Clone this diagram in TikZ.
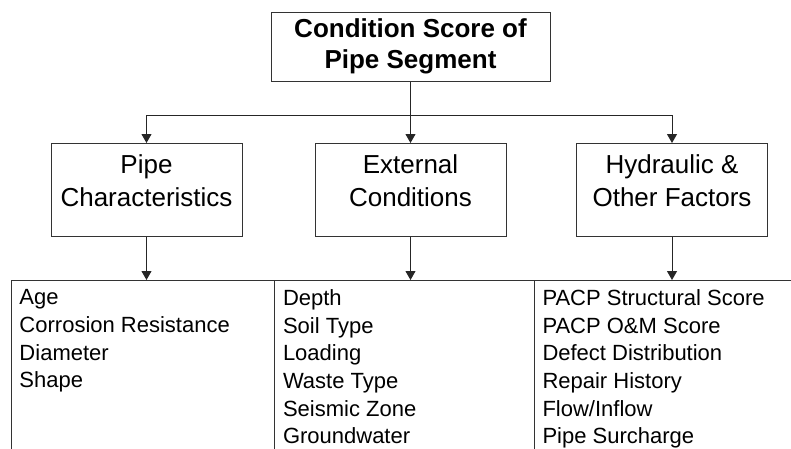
\documentclass[tikz,border=0pt]{standalone}
\usepackage{fontspec}
\setmainfont{Liberation Sans}
\usetikzlibrary{arrows.meta,positioning}

\begin{document}
\begin{tikzpicture}[x=1pt,y=1pt,>={Triangle[width=10pt,length=9pt]},line width=1pt,
	titlebox/.style={draw=black!80,minimum width=279pt,minimum height=69pt,inner sep=0pt,
		font=\fontsize{26}{31}\selectfont\bfseries,align=center},
	catbox/.style={draw=black!80,minimum width=191pt,minimum height=93pt,inner sep=0pt},
	cattext/.style={font=\fontsize{26}{33}\selectfont,align=center,inner sep=0pt,anchor=north},
	listbox/.style={draw=black!80,minimum height=200pt,inner sep=0pt,outer sep=0pt,anchor=north west},
	listtext/.style={font=\fontsize{22}{27.7}\selectfont,align=left,inner sep=0pt,anchor=north west},
	link/.style={draw=black!85}]
	
	\useasboundingbox (0,0) rectangle (791,-448);
	\clip (0,0) rectangle (791,-448);
	
	%----------------------------
	% Top: overall score
	%----------------------------
	\node[titlebox] (score) at (410.5,-46.5) {Condition Score of\\Pipe Segment};
	
	%----------------------------
	% Middle: three groups of factors
	%----------------------------
	\node[catbox] (pc) at (146.5,-190) {};
	\node[cattext] (pctext) at ([yshift=-11pt]pc.north) {Pipe\\Characteristics};
	
	\node[catbox] (ec) at (410.5,-190) {};
	\node[cattext] (ectext) at ([yshift=-11pt]ec.north) {External\\Conditions};
	
	\node[catbox] (hf) at (672,-190) {};
	\node[cattext] (hftext) at ([yshift=-11pt]hf.north) {Hydraulic \&\\Other Factors};
	
	%----------------------------
	% Bottom: lists of factors (cut off at the lower edge)
	%----------------------------
	\node[listbox,minimum width=263.5pt] (pclist) at (11,-280) {};
	\node[listbox,minimum width=259.5pt] (eclist) at (pclist.north east) {};
	\node[listbox,minimum width=260pt] (hflist) at (eclist.north east) {};
	
	\node[listtext] (pcitems) at ([xshift=8pt,yshift=-9pt]pclist.north west)
	{Age\\Corrosion Resistance\\Diameter\\Shape};
	\node[listtext] (ecitems) at ([xshift=8pt,yshift=-9pt]eclist.north west)
	{Depth\\Soil Type\\Loading\\Waste Type\\Seismic Zone\\Groundwater};
	\node[listtext] (hfitems) at ([xshift=8pt,yshift=-9pt]hflist.north west)
	{PACP Structural Score\\PACP O\&M Score\\Defect Distribution\\Repair History\\Flow/Inflow\\Pipe Surcharge};
	
	%----------------------------
	% Arrows
	%----------------------------
	\coordinate (split) at (410.5,-115);
	\draw[link] (score.south) -- (split);
	\draw[link,->] (split) -| (pc.north);
	\draw[link,->] (split) -- (ec.north);
	\draw[link,->] (split) -| (hf.north);
	
	\draw[link,->] (pc.south) -- (pc.south |- pclist.north);
	\draw[link,->] (ec.south) -- (ec.south |- eclist.north);
	\draw[link,->] (hf.south) -- (hf.south |- hflist.north);
	
\end{tikzpicture}
\end{document}
